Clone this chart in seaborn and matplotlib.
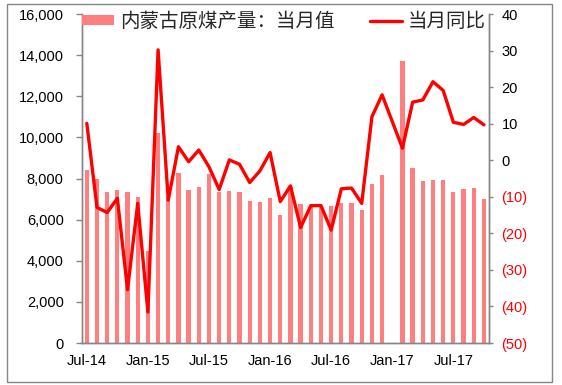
import numpy as np
import pandas as pd
import matplotlib
matplotlib.use('Agg')
from matplotlib import pyplot as plt
from matplotlib.patches import Rectangle
from matplotlib.ticker import FuncFormatter
import seaborn as sns

# monthly categories Jul-14 .. Oct-17
months = list(pd.date_range('2014-07-01', periods=40, freq='MS').strftime('%b-%y'))

# Inner Mongolia raw coal output, monthly value (10k t); Jan-17 not reported
coal_output = [8400, 8000, 7350, 7450, 7350, 7100, 4500, 10200, 7100, 8280,
               7450, 7600, 8230, 7350, 7390, 7350, 6920, 6880, 7030, 6230,
               7600, 6750, 6600, 6650, 6660, 6790, 6830, 6490, 7750, 8150,
               np.nan, 13700, 8520, 7890, 7950, 7950, 7350, 7470, 7520, 7010]

# year-on-year change, %
yoy = [10.1, -12.9, -14.3, -10.4, -35.4, -11.8, -41.5, 30.2, -10.9, 3.7,
       -0.4, 2.8, -1.8, -8.0, 0.1, -1.1, -6.1, -2.9, 2.1, -11.3,
       -7.0, -18.4, -12.4, -12.4, -19.1, -7.8, -7.6, -11.8, 11.9, 17.9,
       np.nan, 3.3, 15.9, 16.5, 21.5, 19.1, 10.4, 9.8, 11.7, 9.7]

bar_label = '内蒙古原煤产量：当月值'
line_label = '当月同比'

df = pd.DataFrame({'month': months, 'output': coal_output, 'yoy': yoy})
df['pos'] = np.arange(len(df))

sns.set_style('white')
plt.rcParams['font.family'] = ['Liberation Sans', 'Noto Sans CJK SC', 'DejaVu Sans']

grey = '#868686'
fig = plt.figure(figsize=(5.62, 3.85), dpi=100)
ax1 = fig.add_axes([0.1454, 0.109, 0.7247, 0.8545])

bars = df.dropna(subset=['output'])
sns.barplot(data=bars, x='month', y='output', order=months, color='#FF7F7F',
            saturation=1, width=0.42, linewidth=0, edgecolor='none', ax=ax1, label=bar_label)
ax1.set_ylim(0, 16000)
ax1.set_yticks(np.arange(0, 16001, 2000))
ax1.yaxis.set_major_formatter(FuncFormatter(lambda v, p: '{:,.0f}'.format(v)))

ax2 = ax1.twinx()
line = df.dropna(subset=['yoy'])
sns.lineplot(data=line, x='pos', y='yoy', color='#FF0000', linewidth=2.4,
             ax=ax2, label=line_label)
ax2.set_ylim(-50, 40)
ax2.set_yticks(np.arange(-50, 41, 10))
ax2.yaxis.set_major_formatter(
    FuncFormatter(lambda v, p: '({:.0f})'.format(-v) if v < 0 else '{:.0f}'.format(v)))

ax1.set_xlim(-0.5, 39.5)
ax1.set_xticks(np.arange(0, 40, 6))
ax1.set_xticklabels(months[::6])
ax1.set_xticks(np.arange(-0.5, 40, 6), minor=True)
ax1.tick_params(axis='x', which='major', length=0, pad=8, labelsize=10.5, labelcolor='black')
ax1.tick_params(axis='x', which='minor', length=4, width=1, color=grey)
ax1.tick_params(axis='y', length=4, width=1, color=grey, pad=9, labelsize=10.5, labelcolor='black', left=True)
ax2.tick_params(axis='y', length=3, width=1, color=grey, pad=6, labelsize=10.5, right=True)
for lab, v in zip(ax2.get_yticklabels(), ax2.get_yticks()):
    lab.set_color('#FF0000' if v < 0 else 'black')

for a in (ax1, ax2):
    a.set_xlabel('')
    a.set_ylabel('')
    a.spines['top'].set_visible(False)
    for s in ('left', 'right', 'bottom'):
        a.spines[s].set_color(grey)
        a.spines[s].set_linewidth(1)

h1, l1 = ax1.get_legend_handles_labels()
h2, l2 = ax2.get_legend_handles_labels()
if ax1.get_legend():
    ax1.get_legend().remove()
if ax2.get_legend():
    ax2.get_legend().remove()
ax2.legend(h1 + h2, l1 + l2, ncol=2, loc='upper left', bbox_to_anchor=(0.0, 1.01),
           frameon=False, handlelength=1.65, handleheight=0.46,
           handletextpad=0.3, columnspacing=1.85, borderpad=0, borderaxespad=0,
           prop={'family': ['Noto Sans CJK SC'], 'size': 14})

# outer frame around the whole picture
fig.patches.append(Rectangle((0.0125, 0.0078), 0.97, 0.982, transform=fig.transFigure,
                             fill=False, edgecolor=grey, linewidth=1))

plt.savefig('out.png', dpi=100)
